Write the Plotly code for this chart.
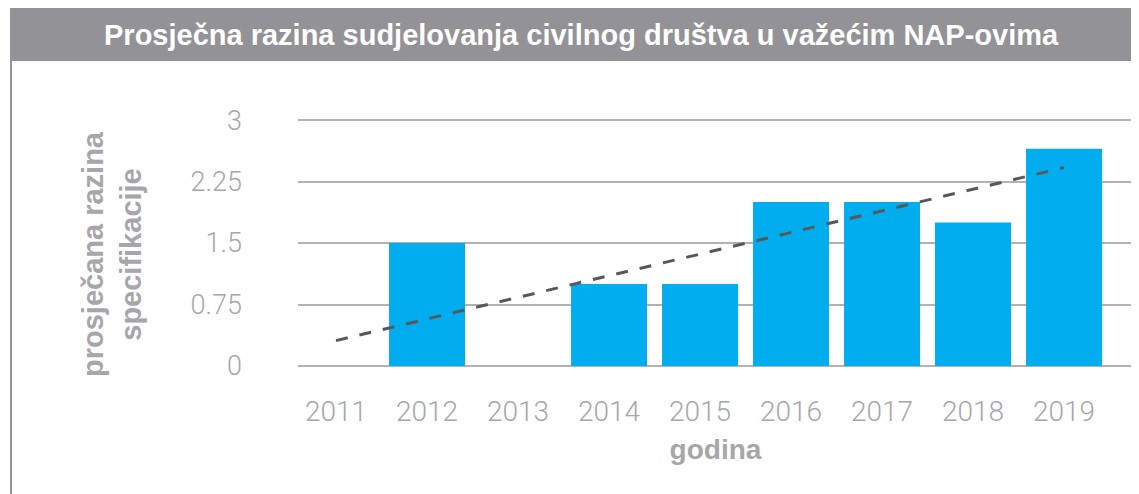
import plotly.graph_objects as go

years = ["2011", "2012", "2013", "2014", "2015", "2016", "2017", "2018", "2019"]
values = [0, 1.5, 0, 1, 1, 2, 2, 1.75, 2.65]
trend_years = ["2011", "2019"]
trend_values = [0.31, 2.42]
y_ticks = [0, 0.75, 1.5, 2.25, 3]
y_tick_labels = ["0", "0.75", "1.5", "2.25", "3"]

title_text = "Prosječna razina sudjelovanja civilnog društva u važećim NAP-ovima"
y_title = "prosječana razina<br>specifikacije"
x_title = "godina"

# page has an 8px body margin; work in page coordinates and convert
OFF = 8
W, H = 1139 - OFF, 494 - OFF
L, R, T, B = 298 - OFF, 6, 118 - OFF, 494 - 366
pw, ph = W - L - R, H - T - B

def px_x(p):
    return (p - OFF - L) / pw

def px_y(p):
    return (T + ph - (p - OFF)) / ph

GRAY_TXT = "#a7a7ab"
BAR = "#00aeef"
FRAME = "#939397"

fig = go.Figure()
fig.add_trace(go.Bar(x=years, y=values, marker=dict(color=BAR, line=dict(width=0)),
                     showlegend=False))
fig.add_trace(go.Scatter(x=trend_years, y=trend_values, mode="lines",
                         line=dict(color="#58585a", width=3, dash="12px,12px"),
                         showlegend=False))

fig.update_layout(
    width=W, height=H,
    margin=dict(l=L, r=R, t=T, b=B),
    paper_bgcolor="white", plot_bgcolor="white",
    bargap=0.165,
    font=dict(family="Liberation Sans", color=GRAY_TXT),
    xaxis=dict(type="category", range=[-0.418, 8.758], showgrid=False, showline=False,
               ticks="", tickfont=dict(family="Roboto", weight=300, size=28, color=GRAY_TXT),
               ticklabelstandoff=26,
               title=dict(text=x_title, font=dict(family="Liberation Sans", weight="bold", size=28, color=GRAY_TXT),
                          standoff=12)),
    yaxis=dict(range=[0, 3.025], tickvals=y_ticks, ticktext=y_tick_labels,
               showgrid=True, gridcolor="#b3b3b6", gridwidth=2,
               zeroline=True, zerolinecolor="#b3b3b6", zerolinewidth=2,
               showline=False, ticks="",
               tickfont=dict(family="Roboto", weight=300, size=27, color=GRAY_TXT),
               ticklabelstandoff=55),
    shapes=[
        dict(type="rect", xref="paper", yref="paper",
             x0=px_x(10), x1=px_x(1139), y0=px_y(61), y1=px_y(8),
             fillcolor=FRAME, line=dict(width=0), layer="below"),
        dict(type="line", xref="paper", yref="paper",
             x0=px_x(11), x1=px_x(11), y0=px_y(61), y1=px_y(494),
             line=dict(color=FRAME, width=2)),
    ],
    annotations=[
        dict(text=title_text, xref="paper", yref="paper", x=px_x(581), y=px_y(35),
             xanchor="center", yanchor="middle", showarrow=False,
             font=dict(family="Liberation Sans", weight="bold", size=29, color="white")),
        dict(text=y_title, xref="paper", yref="paper", x=px_x(112), y=px_y(254),
             xanchor="center", yanchor="middle", showarrow=False, textangle=-90,
             font=dict(family="Liberation Sans", weight="bold", size=29, color=GRAY_TXT)),
    ],
)

fig.write_html("out.html")
